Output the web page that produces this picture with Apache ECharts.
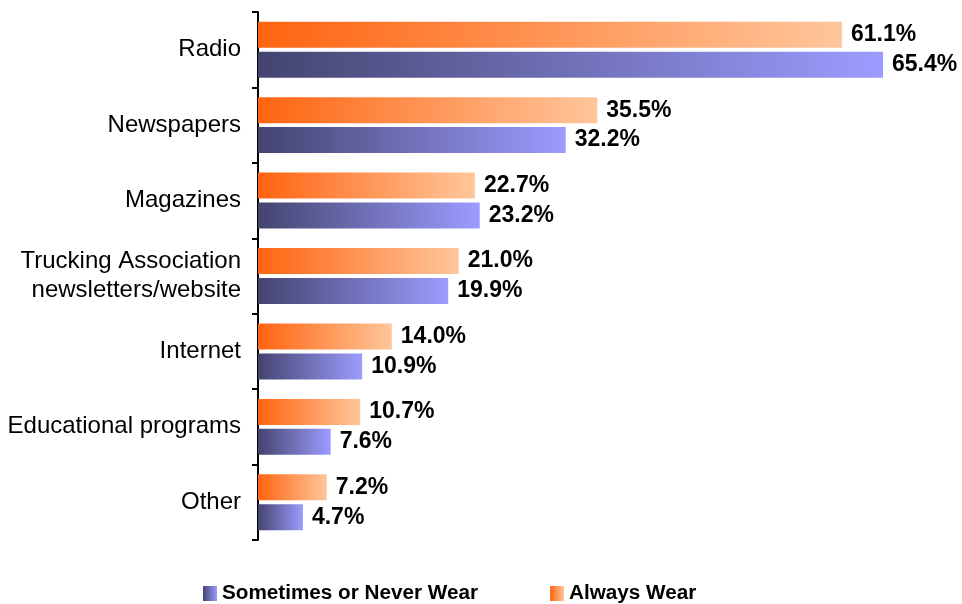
<!DOCTYPE html>
<html>
<head>
<meta charset="utf-8">
<script src="https://cdn.jsdelivr.net/npm/echarts@6/dist/echarts.min.js"></script>
<style>
  html, body { margin: 0; padding: 0; background: #fff; }
  #chart { width: 962px; height: 604px; }
</style>
</head>
<body>
<div id="chart"></div>
<script>
// Information sources, top to bottom
const categories = [
  'Radio',
  'Newspapers',
  'Magazines',
  'Trucking Association\nnewsletters/website',
  'Internet',
  'Educational programs',
  'Other'
];
const alwaysWear = [61.1, 35.5, 22.7, 21.0, 14.0, 10.7, 7.2];
const sometimesNeverWear = [65.4, 32.2, 23.2, 19.9, 10.9, 7.6, 4.7];

const FONT = 'Arial, "Liberation Sans", sans-serif';

function hGradient(from, to) {
  return new echarts.graphic.LinearGradient(0, 0, 1, 0, [
    { offset: 0, color: from },
    { offset: 1, color: to }
  ]);
}

const orangeFill = hGradient('#ff6410', '#ffc69c');
const purpleFill = hGradient('#444470', '#9c9cff');

const valueLabel = {
  show: true,
  position: 'right',
  distance: 9,
  color: '#000',
  fontFamily: FONT,
  fontWeight: 'bold',
  fontSize: 23,
  formatter: p => p.value.toFixed(1) + '%'
};

const chart = echarts.init(document.getElementById('chart'), null, { renderer: 'canvas' });
chart.setOption({
  animation: false,
  backgroundColor: '#fff',
  grid: { left: 258, right: 35, top: 12, bottom: 64, containLabel: false },
  legend: {
    data: ['Sometimes or Never Wear', 'Always Wear'],
    left: 198,
    top: 578,
    itemWidth: 14,
    itemHeight: 15,
    itemGap: 72,
    icon: 'rect',
    textStyle: { fontFamily: FONT, fontWeight: 'bold', fontSize: 20.7, color: '#000' }
  },
  xAxis: {
    type: 'value',
    min: 0,
    max: 70,
    show: false
  },
  yAxis: {
    type: 'category',
    data: categories,
    inverse: true,
    axisLine: { show: true, lineStyle: { color: '#000', width: 2 } },
    axisTick: { show: true, length: 6, inside: false, lineStyle: { color: '#000', width: 2 } },
    axisLabel: {
      margin: 17,
      color: '#000',
      fontFamily: FONT,
      fontSize: 24,
      lineHeight: 29,
      align: 'right'
    },
    splitLine: { show: false }
  },
  series: [
    {
      name: 'Always Wear',
      type: 'bar',
      data: alwaysWear,
      barWidth: 26,
      barGap: '15%',
      itemStyle: { color: orangeFill },
      label: valueLabel
    },
    {
      name: 'Sometimes or Never Wear',
      type: 'bar',
      data: sometimesNeverWear,
      barWidth: 26,
      barGap: '15%',
      itemStyle: { color: purpleFill },
      label: valueLabel
    }
  ]
});
</script>
</body>
</html>
